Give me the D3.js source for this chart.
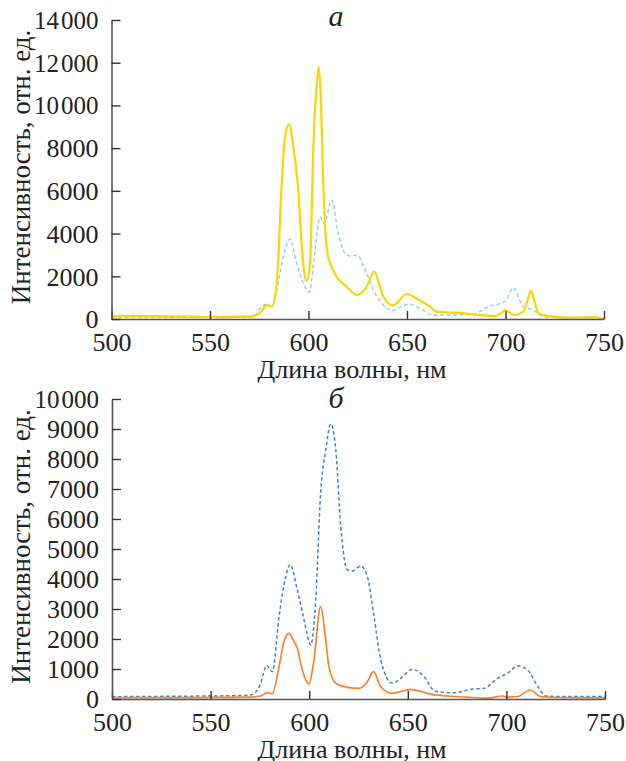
<!DOCTYPE html>
<html>
<head>
<meta charset="utf-8">
<script src="https://cdn.jsdelivr.net/npm/d3@7"></script>
<style>
  body { margin: 0; background: #fff; }
</style>
</head>
<body>
<svg id="chart" width="626" height="761"></svg>
<script>
// длина волны (нм), интенсивность
const xTicks = [500, 550, 600, 650, 700, 750]
const yTicksA = [0, 2000, 4000, 6000, 8000, 10000, 12000, 14000]
const yTicksB = [0, 1000, 2000, 3000, 4000, 5000, 6000, 7000, 8000, 9000, 10000]

// панель а — сплошная жёлтая
const seriesA1 = [[500,150],[520,130],[540,110],[560,100],[570,120],[574,200],[576,350],[578.8,650],[581.3,580],
  [583.9,1670],[586.4,6350],[588.1,8530],[590.1,9120],[592.3,8060],[594.8,6040],[596.5,3540],[597.9,2140],
  [599.1,1790],[600.8,2600],[602.4,7900],[604.2,11000],[605.2,11800],[606.3,10250],[607.5,6350],[608.4,4320],
  [610,2915],[611,2620],[614.3,1980],[619.4,1510],[624.5,1120],[629.5,1510],[633.4,2215],[636.3,1500],[638,1045],
  [643,640],[649.8,1170],[655,950],[661.7,577],[665,343],[675,296],[687,187],[694.7,140],[697.5,250],[699.9,420],
  [702,300],[704.8,187],[709,343],[711,800],[712.8,1325],[714.5,900],[716.7,265],[724,110],[735,70],[744.6,90],[749.6,30]]
// панель а — голубая пунктирная
const seriesA2 = [[500,90],[530,80],[560,70],[570,90],[573,200],[575.4,500],[578.8,700],[581.3,580],[583.9,1357],
  [587.2,2915],[590.6,3744],[594,2600],[597.4,1670],[600.4,1250],[603.3,3230],[605.8,4790],[608,4480],[611.8,5570],
  [615.1,4010],[618.5,3075],[621,2950],[624.5,2995],[629.5,2140],[633.8,1200],[638,655],[643,390],[646.5,550],
  [651,700],[656.6,500],[663.3,187],[675,187],[683.7,234],[692,608],[699.7,810],[704,1465],[709,577],[713.3,453],
  [719.2,110],[730,60],[750,50]]

// панель б — синяя пунктирная
const seriesB1 = [[500,77],[530,90],[560,110],[570,130],[572.5,200],[575.4,523],[578.4,1120],[581.3,910],[584.7,2743],
  [588.1,4077],[590.3,4480],[594,3633],[597.4,2633],[600.8,1800],[603.3,3300],[605.8,6856],[608.4,8300],[610.9,9170],
  [613.5,8300],[616,5743],[619.4,4300],[621.9,4270],[626.1,4433],[629.5,4077],[632.9,2743],[636.3,1300],[642.2,523],
  [646.4,690],[652.4,990],[658.3,743],[663.8,260],[673.5,210],[682,323],[688.7,357],[695.5,690],[700.6,857],
  [705.7,1100],[710.8,967],[715,523],[720,100],[730,80],[750,80]]
// панель б — оранжевая сплошная
const seriesB2 = [[500,43],[540,43],[570,60],[575.3,100],[578.8,210],[581.3,177],[584.7,1077],[587.2,1910],[589.7,2190],
  [592.3,1910],[594,1690],[596.5,967],[599.9,500],[602.4,1300],[605.8,3077],[608.4,1967],[610,1077],[613.5,523],
  [619.4,390],[625.3,357],[629.5,577],[632.6,910],[636.3,410],[642.2,190],[651.5,323],[661.7,160],[670,100],
  [680,60],[690.4,30],[698,100],[700.6,60],[705.7,77],[712,300],[717.5,77],[725,50],[750,40]]

const svg = d3.select('#chart')
const FONT = '"Liberation Serif"'
// разделитель тысяч — тонкий пробел
const fmt = d => (d >= 10000 ? String(d).replace(/(\d{2})(\d{3})/, '$1\u200A$2') : String(d))

function drawPanel(cfg) {
  const x = d3.scaleLinear().domain([500, 750]).range([cfg.x0, cfg.x1])
  const y = d3.scaleLinear().domain([0, cfg.ymax]).range([cfg.y0, cfg.y1])
  const g = svg.append('g')

  // линии
  const line = d3.line().x(d => x(d[0])).y(d => y(d[1])).curve(d3.curveMonotoneX)
  cfg.series.forEach(s => {
    g.append('path')
      .attr('d', line(s.data))
      .attr('fill', 'none')
      .attr('stroke', s.color)
      .attr('stroke-width', s.width)
      .attr('stroke-dasharray', s.dash || null)
  })

  // оси
  const xAxis = g.append('g').attr('transform', `translate(0,${cfg.y0})`)
    .call(d3.axisBottom(x).tickValues(xTicks).tickSizeInner(-8).tickSizeOuter(0).tickPadding(14))
  const yAxis = g.append('g').attr('transform', `translate(${cfg.x0},0)`)
    .call(d3.axisLeft(y).tickValues(cfg.yTicks).tickFormat(fmt).tickSizeInner(-9).tickSizeOuter(0).tickPadding(13))
  ;[xAxis, yAxis].forEach(a => {
    a.select('.domain').attr('stroke', '#555').attr('stroke-width', 1.6)
    a.selectAll('.tick line').attr('stroke', '#333').attr('stroke-width', 1.4)
    a.selectAll('.tick text').style('font-family', FONT).style('font-size', '26px').attr('fill', '#222')
  })
  xAxis.selectAll('.tick text').attr('dy', '0.71em')
  yAxis.selectAll('.tick text').attr('dy', '0.34em')
  yAxis.selectAll('.tick text').filter(d => d >= 10000).style('font-size', '25px')

  g.append('text')
    .attr('x', 352)
    .attr('y', cfg.y0 + 59)
    .attr('text-anchor', 'middle')
    .attr('fill', '#222')
    .style('font-family', FONT)
    .style('font-size', '26px')
    .text('Длина волны, нм')

  g.append('text')
    .attr('transform', `translate(30,${(cfg.y0 + cfg.y1) / 2 - 2.5}) rotate(-90)`)
    .attr('text-anchor', 'middle')
    .attr('fill', '#222')
    .style('font-family', FONT)
    .style('font-size', '27px')
    .text('Интенсивность, отн. ед.')

  g.append('text')
    .attr('x', 336)
    .attr('y', cfg.labelY)
    .attr('text-anchor', 'middle')
    .attr('fill', '#222')
    .style('font-family', FONT)
    .style('font-size', '30px')
    .style('font-style', 'italic')
    .text(cfg.label)
}

drawPanel({
  x0: 111.5, x1: 604, y0: 319, y1: 20, ymax: 14000, yTicks: yTicksA, label: 'а', labelY: 26,
  series: [
    { data: seriesA2, color: '#8ccbe4', width: 1.3, dash: '4,2.5' },
    { data: seriesA1, color: '#ffd400', width: 2.2 },
  ],
})

drawPanel({
  x0: 112, x1: 605, y0: 699, y1: 399, ymax: 10000, yTicks: yTicksB, label: 'б', labelY: 408,
  series: [
    { data: seriesB1, color: '#3a86cf', width: 1.5, dash: '3.5,2.5' },
    { data: seriesB2, color: '#f5832d', width: 1.7 },
  ],
})
</script>
</body>
</html>
